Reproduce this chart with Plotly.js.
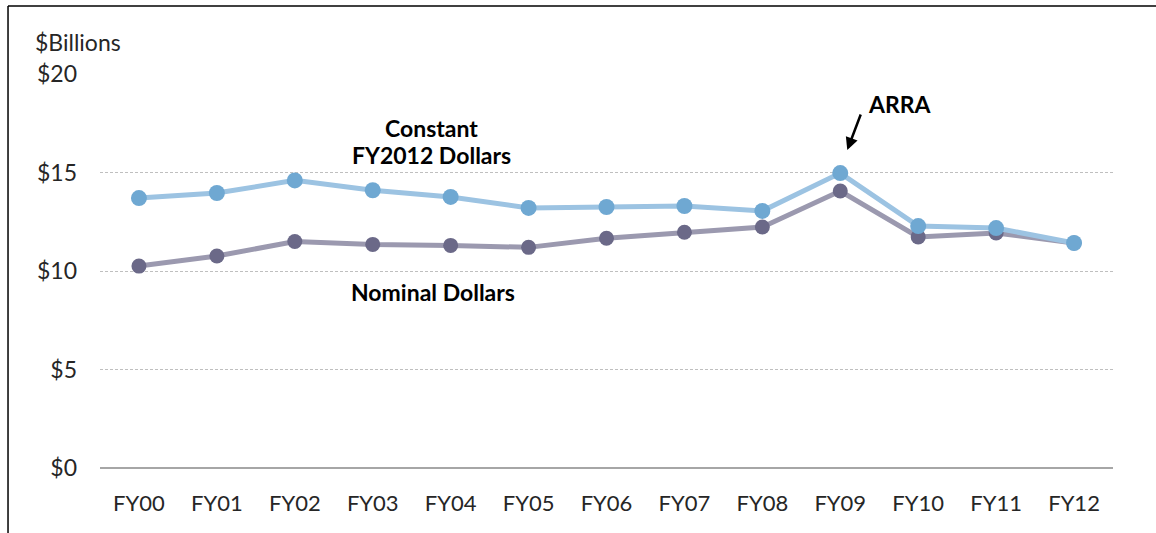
<!DOCTYPE html>
<html>
<head>
<meta charset="utf-8">
<script src="https://cdn.plot.ly/plotly-3.0.1.min.js"></script>
<style>
html,body{margin:0;padding:0;background:#fff;}
#chart{width:1156px;height:533px;}
</style>
</head>
<body>
<div id="chart"></div>
<script>
const years = ["FY00","FY01","FY02","FY03","FY04","FY05","FY06","FY07","FY08","FY09","FY10","FY11","FY12"];
const constantDollars = [13.7, 13.96, 14.6, 14.1, 13.76, 13.2, 13.25, 13.3, 13.05, 14.97, 12.28, 12.18, 11.42];
const nominalDollars = [10.25, 10.76, 11.5, 11.35, 11.3, 11.2, 11.66, 11.97, 12.23, 14.06, 11.73, 11.93, 11.42];
const yTickVals = [0, 5, 10, 15, 20];
const yTickText = ["$0", "$5", "$10", "$15", "$20"];

const font = "Lato, 'Open Sans', sans-serif";

const traces = [
  {
    x: years, y: nominalDollars, type: "scatter", mode: "lines+markers",
    line: {color: "#9b99af", width: 5},
    marker: {color: "#6b6988", size: 15},
    hoverinfo: "skip"
  },
  {
    x: years, y: constantDollars, type: "scatter", mode: "lines+markers",
    line: {color: "#9cc3e2", width: 5},
    marker: {color: "#6fa8d2", size: 16},
    hoverinfo: "skip"
  }
];

const layout = {
  width: 1156, height: 533,
  margin: {l: 100, r: 43, t: 74, b: 65},
  paper_bgcolor: "#fff", plot_bgcolor: "#fff",
  showlegend: false,
  font: {family: font, size: 23, color: "#262626"},
  xaxis: {
    type: "category", range: [-0.5, 12.5], fixedrange: true,
    showgrid: false, zeroline: false,
    showline: false, ticks: "", ticklabelstandoff: 20,
    tickfont: {family: font, size: 22, color: "#262626"}
  },
  yaxis: {
    range: [0, 20], fixedrange: true,
    tickvals: yTickVals, ticktext: yTickText,
    showgrid: true, gridcolor: "#bfbfbf", griddash: "3px,2px", gridwidth: 1,
    zeroline: true, zerolinecolor: "#a6a6a6", zerolinewidth: 1.5,
    showline: false, ticks: "", ticklabelstandoff: 22,
    tickfont: {family: font, size: 23, color: "#262626"}
  },
  shapes: [
    {type: "line", xref: "paper", yref: "paper", x0: -0.0908, x1: -0.0908, y0: -0.2, y1: 1.1726,
     line: {color: "#000", width: 1.5}},
    {type: "line", xref: "paper", yref: "paper", x0: -0.0908, x1: 1.06, y0: 1.1726, y1: 1.1726,
     line: {color: "#000", width: 1.5}}
  ],
  annotations: [
    {xref: "paper", yref: "paper", x: -0.0661, y: 1.081, xanchor: "left", yanchor: "middle",
     text: "$Billions", showarrow: false, font: {family: font, size: 23, color: "#262626"}},
    {xref: "x", yref: "y", x: 3.76, y: 17.26, text: "<b>Constant</b>", showarrow: false,
     font: {family: font, size: 23, color: "#000"}},
    {xref: "x", yref: "y", x: 3.76, y: 15.89, text: "<b>FY2012 Dollars</b>", showarrow: false,
     font: {family: font, size: 23, color: "#000"}},
    {xref: "x", yref: "y", x: 3.77, y: 8.93, text: "<b>Nominal Dollars</b>", showarrow: false,
     font: {family: font, size: 23, color: "#000"}},
    {xref: "x", yref: "y", x: 9.77, y: 18.48, text: "<b>ARRA</b>", showarrow: false,
     font: {family: font, size: 23, color: "#000"}},
    {xref: "x", yref: "y", x: 9.09, y: 16.14, text: "", showarrow: true,
     ax: 14, ay: -37, arrowhead: 2, arrowsize: 1, arrowwidth: 2.5, arrowcolor: "#000", standoff: 0}
  ]
};

Plotly.newPlot("chart", traces, layout, {displayModeBar: false, staticPlot: true});
</script>
</body>
</html>
